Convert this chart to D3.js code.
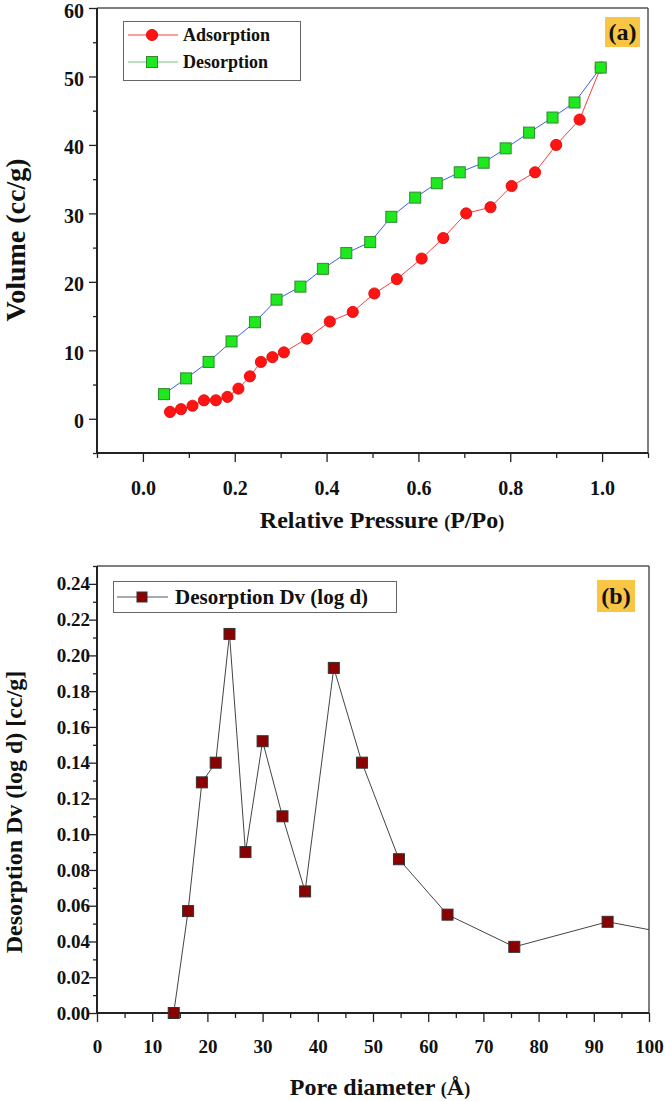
<!DOCTYPE html>
<html><head><meta charset="utf-8">
<script src="https://cdn.jsdelivr.net/npm/d3@7"></script>
<style>body{margin:0;background:#fff}text{font-family:"Liberation Serif","Times New Roman",serif;font-weight:bold;fill:#111}</style>
</head><body>
<svg id="c" width="666" height="1101"></svg>
<script>
// ---- Panel (a) data ----
const adsP = [0.059,0.083,0.108,0.133,0.159,0.184,0.208,0.233,0.257,0.282,0.307,0.357,0.407,0.457,0.504,0.553,0.607,0.654,0.704,0.757,0.803,0.854,0.900,0.951,0.997];
const adsV = [1.0,1.4,1.9,2.7,2.7,3.2,4.4,6.2,8.3,9.0,9.7,11.7,14.2,15.6,18.3,20.4,23.4,26.4,30.0,30.9,34.0,36.0,40.0,43.7,51.3];
const desP = [0.046,0.094,0.143,0.193,0.244,0.291,0.343,0.392,0.443,0.495,0.541,0.593,0.640,0.690,0.742,0.790,0.841,0.892,0.940,0.997];
const desV = [3.6,5.9,8.3,11.3,14.1,17.4,19.3,21.9,24.2,25.8,29.5,32.3,34.4,36.0,37.4,39.5,41.8,44.0,46.2,51.3];
const xTicksA = [0.0,0.2,0.4,0.6,0.8,1.0];
const xMinorA = [-0.1,0.1,0.3,0.5,0.7,0.9,1.1];
const yTicksA = [0,10,20,30,40,50,60];
const yMinorA = [-5,5,15,25,35,45,55];
const seriesA = ["Adsorption","Desorption"];

// ---- Panel (b) data ----
const poreD  = [13.9,16.5,19.0,21.5,24.0,26.9,30.0,33.6,37.7,42.9,48.0,54.7,63.5,75.6,92.5,113];
const poreDv = [0.000,0.057,0.129,0.140,0.212,0.090,0.152,0.110,0.068,0.193,0.140,0.086,0.055,0.037,0.051,0.039];
const xTicksB = [0,10,20,30,40,50,60,70,80,90,100];
const xMinorB = [5,15,25,35,45,55,65,75,85,95];
const yTicksB = [0,0.02,0.04,0.06,0.08,0.10,0.12,0.14,0.16,0.18,0.20,0.22,0.24];
const yMinorB = [0.01,0.03,0.05,0.07,0.09,0.11,0.13,0.15,0.17,0.19,0.21,0.23,0.25];
const seriesB = ["Desorption Dv (log d)"];

const svg = d3.select("#c");

function frame(g, w, h) {
  g.append("line").attr("x1",0).attr("x2",w).attr("y1",0).attr("y2",0).attr("stroke","#555").attr("stroke-width",1.5);
  g.append("line").attr("x1",w).attr("x2",w).attr("y1",0).attr("y2",h).attr("stroke","#555").attr("stroke-width",1.5);
}

function axes(g, x, y, w, h, o) {
  g.append("g").attr("transform",`translate(0,${h})`)
    .call(d3.axisBottom(x).tickValues(o.xMinor).tickSize(5).tickFormat(""))
    .call(s=>s.select(".domain").remove()).selectAll("line").attr("stroke","#222").attr("stroke-width",1.3);
  const gx = g.append("g").attr("transform",`translate(0,${h})`)
    .call(d3.axisBottom(x).tickValues(o.xTicks).tickSize(9).tickFormat(o.xFmt));
  gx.select(".domain").remove();
  gx.selectAll("line").attr("stroke","#222").attr("stroke-width",1.3);
  gx.selectAll("text").attr("y",o.xLabY).attr("dy",null).style("font-size",o.fs+"px")
    .style("font-family",'"Liberation Serif",serif').style("font-weight","bold").attr("fill","#111");
  g.append("g").call(d3.axisLeft(y).tickValues(o.yMinor).tickSize(4).tickFormat(""))
    .call(s=>s.select(".domain").remove()).selectAll("line").attr("stroke","#222").attr("stroke-width",1.3);
  const gy = g.append("g").call(d3.axisLeft(y).tickValues(o.yTicks).tickSize(8).tickFormat(o.yFmt));
  gy.select(".domain").remove();
  gy.selectAll("line").attr("stroke","#222").attr("stroke-width",1.3);
  gy.selectAll("text").attr("x",o.yLabX).attr("dy",o.yDy).style("font-size",o.fs+"px")
    .style("font-family",'"Liberation Serif",serif').style("font-weight","bold").attr("fill","#111");
  g.append("line").attr("x1",0).attr("x2",w).attr("y1",h).attr("y2",h).attr("stroke","#222").attr("stroke-width",2);
  g.append("line").attr("x1",0).attr("x2",0).attr("y1",0).attr("y2",h).attr("stroke","#222").attr("stroke-width",2);
}

// ================= Panel (a) =================
{
  const L=97, T=8, W=551, H=445;
  const g = svg.append("g").attr("transform",`translate(${L},${T})`);
  const x = d3.scaleLinear().domain([-0.1,1.1]).range([0,W]);
  const y = d3.scaleLinear().domain([-5,60]).range([H,0]);
  frame(g,W,H);
  axes(g,x,y,W,H,{xTicks:xTicksA,xMinor:xMinorA,yTicks:yTicksA,yMinor:yMinorA,
    xFmt:d3.format(".1f"),yFmt:d3.format("d"),xLabY:42,yLabX:-13,yDy:"0.45em",fs:20});

  const ads = adsP.map((p,i)=>[p,adsV[i]]);
  const des = desP.map((p,i)=>[p,desV[i]]);
  const line = d3.line().x(d=>x(d[0])).y(d=>y(d[1]));
  g.append("path").attr("d",line(ads)).attr("fill","none").attr("stroke","#ff3b3b").attr("stroke-width",1);
  g.selectAll(".ad").data(ads).join("circle").attr("cx",d=>x(d[0])).attr("cy",d=>y(d[1])).attr("r",5.6)
    .attr("fill","#ff1414").attr("stroke","#e00000").attr("stroke-width",0.8);
  g.append("path").attr("d",line(des)).attr("fill","none").attr("stroke","#3a5cff").attr("stroke-width",1);
  g.selectAll(".de").data(des).join("rect").attr("x",d=>x(d[0])-5.5).attr("y",d=>y(d[1])-5.5)
    .attr("width",11).attr("height",11).attr("fill","#1ee81e").attr("stroke","#2f8a2f").attr("stroke-width",1);

  const lg = svg.append("g");
  lg.append("rect").attr("x",123.5).attr("y",21.5).attr("width",177).attr("height",59).attr("fill","#fff").attr("stroke","#666").attr("stroke-width",1);
  const ly=[35,62];
  lg.append("line").attr("x1",128).attr("x2",178).attr("y1",ly[0]).attr("y2",ly[0]).attr("stroke","#ff3b3b");
  lg.append("circle").attr("cx",152).attr("cy",ly[0]).attr("r",5.6).attr("fill","#ff1414").attr("stroke","#e00000").attr("stroke-width",0.8);
  lg.append("line").attr("x1",128).attr("x2",178).attr("y1",ly[1]).attr("y2",ly[1]).attr("stroke","#7fbf7f");
  lg.append("rect").attr("x",146.5).attr("y",ly[1]-5.5).attr("width",11).attr("height",11).attr("fill","#1ee81e").attr("stroke","#2f8a2f");
  seriesA.forEach((s,i)=>lg.append("text").attr("x",183).attr("y",ly[i]+6).style("font-size","18px").text(s));

  svg.append("rect").attr("x",605).attr("y",17).attr("width",35).attr("height",30).attr("fill","#f8c544");
  svg.append("text").attr("x",622.5).attr("y",40).attr("text-anchor","middle").style("font-size","24px").text("(a)");

  const xt = svg.append("text").attr("x",382).attr("y",528).attr("text-anchor","middle").style("font-size","24px");
  xt.append("tspan").text("Relative Pressure ");
  xt.append("tspan").style("font-size","18px").text("(");
  xt.append("tspan").text("P/Po");
  xt.append("tspan").style("font-size","18px").text(")");
  svg.append("text").attr("transform","translate(25,240) rotate(-90)").attr("text-anchor","middle")
    .style("font-size","28px").text("Volume (cc/g)");
}

// ================= Panel (b) =================
{
  const L=97, T=566, W=552, H=447;
  const g = svg.append("g").attr("transform",`translate(${L},${T})`);
  const x = d3.scaleLinear().domain([0,100]).range([0,W]);
  const y = d3.scaleLinear().domain([0,0.25]).range([H,0]);
  svg.append("defs").append("clipPath").attr("id","clipB").append("rect").attr("x",0).attr("y",-10).attr("width",W).attr("height",H+20);
  frame(g,W,H);
  axes(g,x,y,W,H,{xTicks:xTicksB,xMinor:xMinorB,yTicks:yTicksB,yMinor:yMinorB,
    xFmt:d3.format("d"),yFmt:d3.format(".2f"),xLabY:40,yLabX:-7,yDy:"0.32em",fs:19});

  const pts = poreD.map((d,i)=>[d,poreDv[i]]);
  const line = d3.line().x(d=>x(d[0])).y(d=>y(d[1]));
  const pg = g.append("g").attr("clip-path","url(#clipB)");
  pg.append("path").attr("d",line(pts)).attr("fill","none").attr("stroke","#444").attr("stroke-width",1);
  pg.selectAll(".pb").data(pts).join("rect").attr("x",d=>x(d[0])-5.5).attr("y",d=>y(d[1])-5.5)
    .attr("width",11).attr("height",11).attr("fill","#8b0000").attr("stroke","#333").attr("stroke-width",1);

  const lg = svg.append("g");
  lg.append("rect").attr("x",113.5).attr("y",581.5).attr("width",283).attr("height",31).attr("fill","#fff").attr("stroke","#666").attr("stroke-width",1);
  lg.append("line").attr("x1",117).attr("x2",168).attr("y1",597).attr("y2",597).attr("stroke","#555");
  lg.append("rect").attr("x",137).attr("y",592).attr("width",10).attr("height",10).attr("fill","#8b0000").attr("stroke","#333");
  lg.append("text").attr("x",175).attr("y",604).style("font-size","21px").text(seriesB[0]);

  svg.append("rect").attr("x",597).attr("y",580).attr("width",38).attr("height",32).attr("fill","#f8c544");
  svg.append("text").attr("x",616).attr("y",604).attr("text-anchor","middle").style("font-size","24px").text("(b)");

  const xt = svg.append("text").attr("x",380).attr("y",1095).attr("text-anchor","middle").style("font-size","24px");
  xt.append("tspan").text("Pore diameter ");
  xt.append("tspan").style("font-size","18px").text("(");
  xt.append("tspan").text("Å");
  xt.append("tspan").style("font-size","18px").text(")");
  svg.append("text").attr("transform","translate(22,812) rotate(-90)").attr("text-anchor","middle")
    .style("font-size","24px").text("Desorption Dv (log d) [cc/g]");
}
</script>
</body></html>
